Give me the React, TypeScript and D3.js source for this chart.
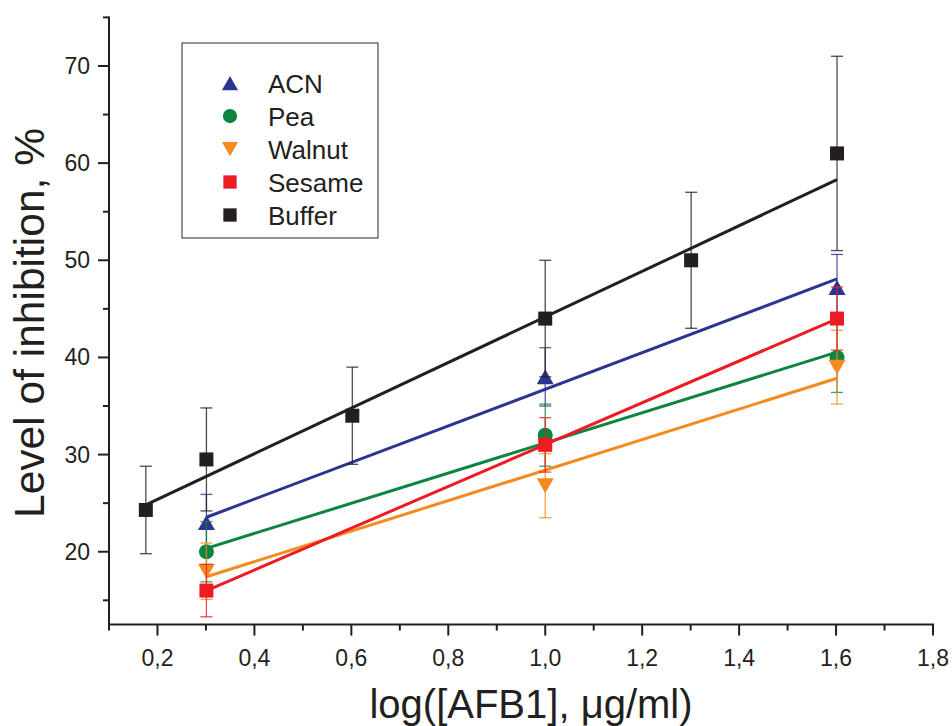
import React from 'react';
import * as d3 from 'd3';

const W = 952;
const H = 726;

const xMajorTicks = [0.2, 0.4, 0.6, 0.8, 1.0, 1.2, 1.4, 1.6, 1.8];
const xTickLabels = ['0,2', '0,4', '0,6', '0,8', '1,0', '1,2', '1,4', '1,6', '1,8'];
const xMinorTicks = [0.1, 0.3, 0.5, 0.7, 0.9, 1.1, 1.3, 1.5, 1.7];
const yMajorTicks = [20, 30, 40, 50, 60, 70];
const yMinorTicks = [15, 25, 35, 45, 55, 65, 75];

const acnX = [0.301, 1.0, 1.602];
const acnY = [23, 38, 47.2];
const acnErr = [2.9, 3, 3.4];

const peaX = [0.301, 1.0, 1.602];
const peaY = [20, 32, 40];
const peaErr = [3.1, 3.2, 3.6];

const walnutX = [0.301, 1.0, 1.602];
const walnutY = [18, 26.8, 39];
const walnutErr = [2.9, 3.3, 3.8];

const sesameX = [0.301, 1.0, 1.602];
const sesameY = [16, 31, 44];
const sesameErr = [2.7, 2.8, 3.25];

const bufferX = [0.176, 0.301, 0.602, 1.0, 1.301, 1.602];
const bufferY = [24.3, 29.5, 34, 44, 50, 61];
const bufferErr = [4.5, 5.3, 5, 6, 7, 10];

const seriesNames = ['ACN', 'Pea', 'Walnut', 'Sesame', 'Buffer'];

type Series = {
  name: string;
  xs: number[];
  ys: number[];
  errs: number[];
  color: string;
  shape: 'tri' | 'circle' | 'itri' | 'square';
};

const series: Series[] = [
  { name: seriesNames[0], xs: acnX, ys: acnY, errs: acnErr, color: '#2b3590', shape: 'tri' },
  { name: seriesNames[1], xs: peaX, ys: peaY, errs: peaErr, color: '#0e8441', shape: 'circle' },
  { name: seriesNames[2], xs: walnutX, ys: walnutY, errs: walnutErr, color: '#f58a1f', shape: 'itri' },
  { name: seriesNames[3], xs: sesameX, ys: sesameY, errs: sesameErr, color: '#ec1c24', shape: 'square' },
  { name: seriesNames[4], xs: bufferX, ys: bufferY, errs: bufferErr, color: '#231f20', shape: 'square' },
];

function weightedFit(xs: number[], ys: number[], errs: number[]) {
  const w = errs.map((e) => 1 / (e * e));
  const sw = d3.sum(w);
  const mx = d3.sum(xs.map((x, i) => x * w[i])) / sw;
  const my = d3.sum(ys.map((y, i) => y * w[i])) / sw;
  let sxx = 0;
  let sxy = 0;
  xs.forEach((x, i) => {
    sxx += w[i] * (x - mx) * (x - mx);
    sxy += w[i] * (x - mx) * (ys[i] - my);
  });
  const slope = sxy / sxx;
  const intercept = my - slope * mx;
  return (x: number) => intercept + slope * x;
}

const FONT = "'Liberation Sans', Arial, Helvetica, sans-serif";

function Marker({ shape, cx, cy, color, s = 1 }: { shape: string; cx: number; cy: number; color: string; s?: number }) {
  if (shape === 'square') {
    const a = 14 * s;
    return <rect x={cx - a / 2} y={cy - a / 2} width={a} height={a} fill={color} />;
  }
  if (shape === 'circle') {
    return <circle cx={cx} cy={cy} r={7.5 * s} fill={color} />;
  }
  const hw = 8.5 * s;
  const hh = 7.5 * s;
  if (shape === 'tri') {
    return <path d={`M${cx},${cy - hh}L${cx + hw},${cy + hh}L${cx - hw},${cy + hh}Z`} fill={color} />;
  }
  return <path d={`M${cx - hw},${cy - hh}L${cx + hw},${cy - hh}L${cx},${cy + hh}Z`} fill={color} />;
}

export default function App() {
  const x = d3.scaleLinear().domain([0.1, 1.8]).range([109, 933]);
  const y = d3.scaleLinear().domain([12.5, 75]).range([624.6, 17.4]);
  const x0 = x(0.1);
  const yBottom = y(12.5);

  const line = d3
    .line<[number, number]>()
    .x((d) => x(d[0]))
    .y((d) => y(d[1]));

  return (
    <div style={{ position: 'absolute', left: 0, top: 0 }}>
      <svg width={W} height={H} style={{ display: 'block', background: '#fff' }} fontFamily={FONT}>
        {/* data */}
        {series.map((s) => {
          const f = weightedFit(s.xs, s.ys, s.errs);
          const xmin = d3.min(s.xs) as number;
          const xmax = d3.max(s.xs) as number;
          return (
            <g key={s.name}>
              {s.xs.map((xv, i) => {
                const cx = x(xv);
                const yt = y(s.ys[i] + s.errs[i]);
                const yb = y(s.ys[i] - s.errs[i]);
                return (
                  <g key={i} stroke={s.color} strokeWidth={1.3} strokeOpacity={0.8}>
                    <line x1={cx} x2={cx} y1={yt} y2={yb} />
                    <line x1={cx - 6} x2={cx + 6} y1={yt} y2={yt} />
                    <line x1={cx - 6} x2={cx + 6} y1={yb} y2={yb} />
                  </g>
                );
              })}
              {s.xs.map((xv, i) => (
                <Marker key={'m' + i} shape={s.shape} cx={x(xv)} cy={y(s.ys[i])} color={s.color} />
              ))}
              <path
                d={line([
                  [xmin, f(xmin)],
                  [xmax, f(xmax)],
                ]) as string}
                stroke={s.color}
                strokeWidth={3}
                fill="none"
              />
            </g>
          );
        })}

        {/* axes */}
        <g stroke="#231f20" strokeWidth={2}>
          <line x1={x0} x2={x(1.8) + 1} y1={yBottom} y2={yBottom} />
          <line x1={x0} x2={x0} y1={y(75) - 1} y2={yBottom + 1} />
          {xMajorTicks.map((t) => (
            <line key={'xM' + t} x1={x(t)} x2={x(t)} y1={yBottom} y2={yBottom + 11} />
          ))}
          {xMinorTicks.map((t) => (
            <line key={'xm' + t} x1={x(t)} x2={x(t)} y1={yBottom} y2={yBottom + 6} />
          ))}
          {yMajorTicks.map((t) => (
            <line key={'yM' + t} x1={x0 - 11} x2={x0} y1={y(t)} y2={y(t)} />
          ))}
          {yMinorTicks.map((t) => (
            <line key={'ym' + t} x1={x0 - 6} x2={x0} y1={y(t)} y2={y(t)} />
          ))}
        </g>
        <g fill="#231f20" fontSize={23}>
          {xMajorTicks.map((t, i) => (
            <text key={'xl' + t} x={x(t)} y={666} textAnchor="middle">
              {xTickLabels[i]}
            </text>
          ))}
          {yMajorTicks.map((t) => (
            <text key={'yl' + t} x={90} y={y(t) + 8} textAnchor="end">
              {t}
            </text>
          ))}
        </g>

        {/* axis titles */}
        <text x={531} y={718} textAnchor="middle" fontSize={40} fill="#231f20">
          log([AFB1], μg/ml)
        </text>
        <text
          transform={`translate(44,${323}) rotate(-90)`}
          textAnchor="middle"
          fontSize={42.5}
          fill="#231f20"
        >
          Level of inhibition, %
        </text>

        {/* legend */}
        <rect x={182} y={43} width={196} height={195} fill="#fff" stroke="#4d4d4d" strokeWidth={1.2} />
        {series.map((s, i) => {
          const cy = 83 + i * 33;
          return (
            <g key={'lg' + s.name}>
              <Marker shape={s.shape} cx={230} cy={cy} color={s.color} s={0.95} />
              <text x={268} y={cy + 9.5} fontSize={26} fill="#231f20">
                {s.name}
              </text>
            </g>
          );
        })}
      </svg>
    </div>
  );
}
